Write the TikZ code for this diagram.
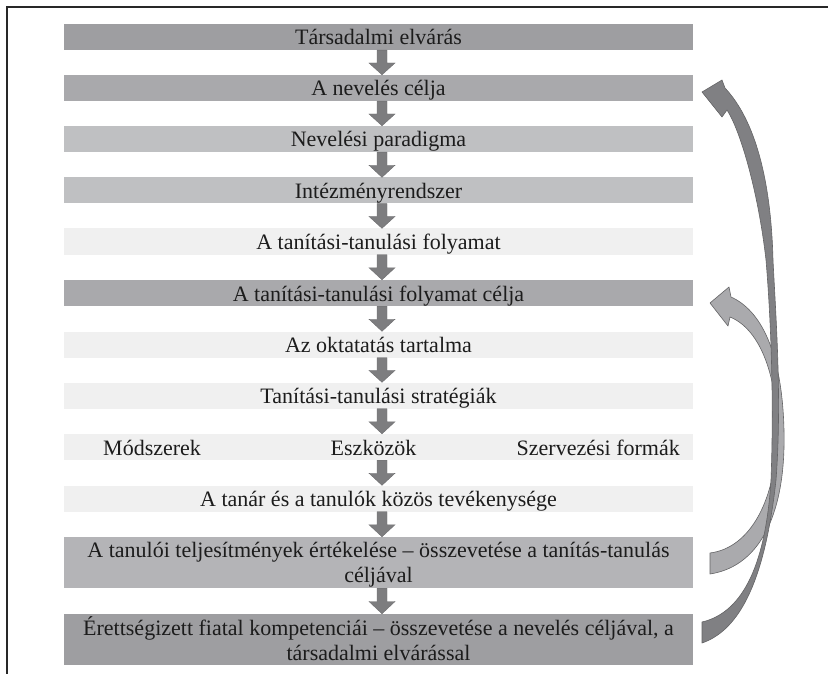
\documentclass[tikz,border=0pt]{standalone}
\usepackage{fontspec}
\setmainfont{Liberation Serif}
\usetikzlibrary{calc}
\definecolor{barA}{RGB}{158,158,161}
\definecolor{barB}{RGB}{169,169,172}
\definecolor{barC}{RGB}{191,192,194}
\definecolor{barD}{RGB}{240,240,240}
\definecolor{barE}{RGB}{180,180,183}
\definecolor{arrowF}{RGB}{125,125,127}
\definecolor{arrowL}{RGB}{110,110,112}
\definecolor{curveA}{RGB}{128,128,131}
\definecolor{curveB}{RGB}{170,170,173}
\definecolor{curveEdge}{RGB}{100,100,102}
\definecolor{txt}{RGB}{28,28,28}
\definecolor{framec}{RGB}{40,40,40}
\tikzset{
  bar/.style={rectangle, inner sep=0pt, minimum width=629pt, text=txt, font=\fontsize{22}{25}\selectfont},
  onebar/.style={bar, minimum height=26pt, text height=20pt, text depth=4pt},
  twobar/.style={bar, minimum height=51pt, align=center},
  plain/.style={inner sep=0pt, text=txt, font=\fontsize{22}{25}\selectfont},
  curved/.style={draw=curveEdge, line width=0.6pt, line join=round},
  smallarrow/.style={fill=arrowF, draw=arrowL, line width=0.4pt},
}
\newcommand\dnarrow[2]{%
  \path[smallarrow] let \p1=($(#1.south)+(3.5,0)$), \p2=($(#2.north)+(3.5,0)$),
    \p3=($(\p1)!0.52!(\p2)$) in
  (\x1-5pt,\y1) -- (\x1+5pt,\y1) -- (\x1+5pt,\y3) -- (\x1+13pt,\y3) --
  (\x1,\y2) -- (\x1-13pt,\y3) -- (\x1-5pt,\y3) -- cycle;}
\begin{document}
\begin{tikzpicture}[x=1pt,y=-1pt]
\useasboundingbox (0,0) rectangle (828,674);
\draw[framec, line width=1.3pt] (828,7) -- (7,7) -- (7,674);

\node[onebar, fill=barA] (b1) at (378.5,37) {Társadalmi elvárás};
\node[onebar, fill=barB] (b2) at (378.5,88) {A nevelés célja};
\node[onebar, fill=barC] (b3) at (378.5,139) {Nevelési paradigma};
\node[onebar, fill=barC] (b4) at (378.5,190.5) {Intézményrendszer};
\node[onebar, fill=barD] (b5) at (378.5,241.5) {A tanítási-tanulási folyamat};
\node[onebar, fill=barB] (b6) at (378.5,293) {A tanítási-tanulási folyamat célja};
\node[onebar, fill=barD] (b7) at (378.5,344.5) {Az oktatatás tartalma};
\node[onebar, fill=barD] (b8) at (378.5,395.5) {Tanítási-tanulási stratégiák};
\node[onebar, fill=barD] (b9) at (378.5,447) {};
\node[plain, anchor=base west] (m1) at (103,455) {Módszerek};
\node[plain, anchor=base] (m2) at (373.5,455) {Eszközök};
\node[plain, anchor=base east] (m3) at (680,455) {Szervezési formák};
\node[onebar, fill=barD] (b10) at (378.5,498.5) {A tanár és a tanulók közös tevékenysége};
\node[twobar, fill=barE] (b11) at (378.5,562.5) {\rule{0pt}{20pt}A tanulói teljesítmények értékelése – összevetése a tanítás-tanulás\\céljával\rule[-4pt]{0pt}{4pt}};
\node[twobar, fill=barA] (b12) at (378.5,639.5) {\rule{0pt}{20pt}Érettségizett fiatal kompetenciái – összevetése a nevelés céljával, a\\társadalmi elvárással\rule[-4pt]{0pt}{4pt}};

\dnarrow{b1}{b2}
\dnarrow{b2}{b3}
\dnarrow{b3}{b4}
\dnarrow{b4}{b5}
\dnarrow{b5}{b6}
\dnarrow{b6}{b7}
\dnarrow{b7}{b8}
\dnarrow{b8}{b9}
\dnarrow{b9}{b10}
\dnarrow{b10}{b11}
\dnarrow{b11}{b12}

% curved arrow from b11 back to b6
\path[curved, fill=curveB] (710,574) .. controls (762,566) and (786,510) .. (784,430)
  .. controls (782,350) and (760,310) .. (731,297) -- (729,287) -- (710,303)
  -- (728,326) -- (730,317) .. controls (762,330) and (777,380) .. (777,430)
  .. controls (777,500) and (750,548) .. (710,553) -- cycle;
% curved arrow from b12 back to b2
\path[curved, fill=curveA] (702,643) .. controls (740,630) and (765,580) .. (776,480)
  .. controls (782,400) and (776,320) .. (773,260)
  .. controls (771,180) and (755,120) .. (725,88) -- (722,80) -- (702,92)
  -- (722,117) -- (727,110) .. controls (740,130) and (758,190) .. (766,260)
  .. controls (771,320) and (774,400) .. (771,480)
  .. controls (766,560) and (745,612) .. (702,622) -- cycle;
\end{tikzpicture}
\end{document}
